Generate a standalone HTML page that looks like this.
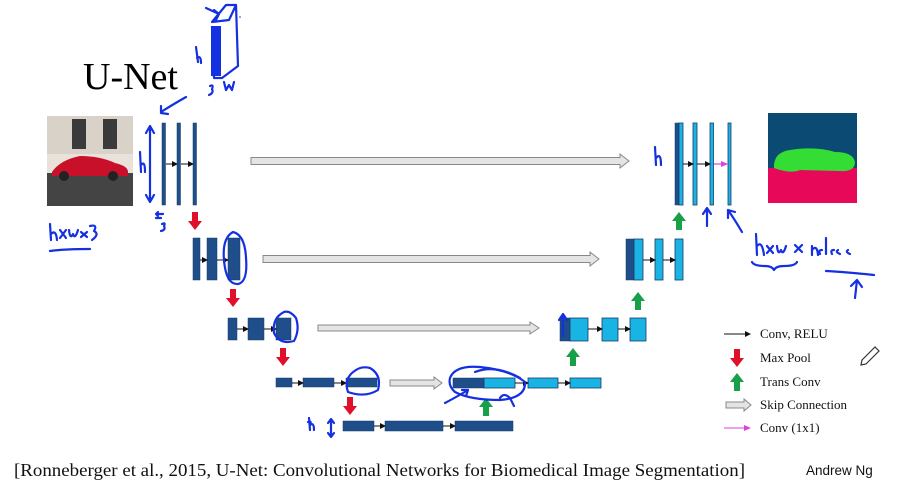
<!DOCTYPE html>
<html><head><meta charset="utf-8"><style>
html,body{margin:0;padding:0;background:#fff;}
svg{display:block}
</style></head><body>
<svg width="906" height="498" viewBox="0 0 906 498" xmlns="http://www.w3.org/2000/svg">
<defs>
<marker id="ah" markerWidth="6" markerHeight="6" refX="5" refY="3" orient="auto" markerUnits="userSpaceOnUse"><path d="M0,0 L6,3 L0,6 Z" fill="#111"/></marker>
<marker id="ap" markerWidth="7" markerHeight="6" refX="6" refY="3" orient="auto" markerUnits="userSpaceOnUse"><path d="M0,0 L7,3 L0,6 Z" fill="#e040e0"/></marker>
<g id="red"><rect x="-3" y="0" width="6" height="10" fill="#e0102a"/><path d="M-7,9 L7,9 L0,18 Z" fill="#e0102a"/></g>
<g id="grn"><rect x="-3" y="8" width="6" height="10" fill="#18a048"/><path d="M-7,9 L7,9 L0,0 Z" fill="#18a048"/></g>
</defs>
<text x="83" y="89" font-family="Liberation Serif,serif" font-size="38">U-Net</text>
<!-- input image -->
<rect x="47" y="116" width="86" height="90" fill="#e8e2da"/>
<rect x="47" y="116" width="86" height="38" fill="#d9d2c8"/>
<rect x="72" y="119" width="14" height="30" fill="#3a3a3a"/><rect x="103" y="119" width="14" height="30" fill="#3a3a3a"/>
<rect x="47" y="173" width="86" height="33" fill="#444"/>
<path d="M52,172 Q60,160 80,156 Q100,156 115,163 Q128,166 128,172 L128,176 L52,176 Z" fill="#c8102a"/>
<circle cx="64" cy="176" r="5" fill="#222"/><circle cx="113" cy="176" r="5" fill="#222"/>
<!-- seg map -->
<rect x="768" y="113" width="89" height="90" fill="#0b4a73"/>
<path d="M768,168 L857,168 L857,203 L768,203 Z" fill="#e8085a"/>
<path d="M774,165 Q775,152 790,150 Q815,146 835,152 Q853,152 855,162 Q855,172 840,171 L800,170 Q790,174 774,168 Z" fill="#33dd33"/>
<!-- skip connections -->
<g fill="#e4e4e4" stroke="#888" stroke-width="1">
<path d="M251,157.5 L620,157.5 L620,154 L629,161 L620,168 L620,164.5 L251,164.5 Z"/>
<path d="M263,255.5 L590,255.5 L590,252 L599,259 L590,266 L590,262.5 L263,262.5 Z"/>
<path d="M318,325 L530,325 L530,322 L539,328 L530,334 L530,331 L318,331 Z"/>
<path d="M390,380 L434,380 L434,377 L442,383 L434,389 L434,386 L390,386 Z"/>
</g>
<!-- down path -->
<g fill="#1f4e8a" stroke="#173a66" stroke-width="0.5">
<rect x="162" y="123" width="3.5" height="82"/><rect x="177" y="123" width="3.5" height="82"/><rect x="193" y="123" width="3.5" height="82"/>
<rect x="193" y="238" width="7" height="42"/><rect x="207" y="238" width="10" height="42"/><rect x="228" y="238" width="12" height="42"/>
<rect x="228" y="318" width="9" height="22"/><rect x="248" y="318" width="16" height="22"/><rect x="276" y="318" width="15" height="22"/>
<rect x="276" y="378" width="16" height="9"/><rect x="303" y="378" width="31" height="9"/><rect x="346" y="378" width="31" height="9"/>
<rect x="343" y="421" width="31" height="10"/><rect x="385" y="421" width="58" height="10"/><rect x="455" y="421" width="58" height="10"/>
<rect x="453" y="378" width="31" height="10"/>
<rect x="560" y="318" width="10" height="23"/>
<rect x="626" y="239" width="8" height="41"/>
<rect x="675" y="123" width="4" height="82"/>
</g>
<g fill="#1ab4e4" stroke="#173a66" stroke-width="0.8">
<rect x="484" y="378" width="31" height="10"/><rect x="528" y="378" width="30" height="10"/><rect x="570" y="378" width="31" height="10"/>
<rect x="570" y="318" width="18" height="23"/><rect x="602" y="318" width="16" height="23"/><rect x="630" y="318" width="16" height="23"/>
<rect x="634" y="239" width="9" height="41"/><rect x="655" y="239" width="8" height="41"/><rect x="675" y="239" width="8" height="41"/>
<rect x="679" y="123" width="4" height="82"/><rect x="693" y="123" width="4" height="82"/><rect x="710" y="123" width="3.5" height="82"/><rect x="728" y="123" width="3" height="82"/>
</g>
<!-- conv arrows -->
<g stroke="#111" stroke-width="1" marker-end="url(#ah)">
<line x1="166" y1="164" x2="177" y2="164"/><line x1="181" y1="164" x2="193" y2="164"/>
<line x1="200" y1="260" x2="207" y2="260"/><line x1="217" y1="260" x2="228" y2="260"/>
<line x1="237" y1="329" x2="248" y2="329"/><line x1="264" y1="329" x2="276" y2="329"/>
<line x1="292" y1="383" x2="303" y2="383"/><line x1="334" y1="383" x2="346" y2="383"/>
<line x1="374" y1="426" x2="385" y2="426"/><line x1="443" y1="426" x2="455" y2="426"/>
<line x1="515" y1="383" x2="528" y2="383"/><line x1="558" y1="383" x2="570" y2="383"/>
<line x1="588" y1="329" x2="602" y2="329"/><line x1="618" y1="329" x2="630" y2="329"/>
<line x1="643" y1="260" x2="655" y2="260"/><line x1="663" y1="260" x2="675" y2="260"/>
<line x1="683" y1="164" x2="693" y2="164"/><line x1="697" y1="164" x2="710" y2="164"/>
</g>
<line x1="714" y1="164" x2="727" y2="164" stroke="#e040e0" stroke-width="1.2" marker-end="url(#ap)"/>
<use href="#red" x="195" y="212"/><use href="#red" x="233" y="289"/><use href="#red" x="283" y="348"/><use href="#red" x="350" y="397"/>
<use href="#grn" x="486" y="398"/><use href="#grn" x="573" y="348"/><use href="#grn" x="638" y="292"/><use href="#grn" x="679" y="212"/>
<!-- legend -->
<g font-family="Liberation Serif,serif" font-size="13" fill="#111">
<line x1="724" y1="334" x2="750" y2="334" stroke="#111" marker-end="url(#ah)"/>
<text x="760" y="338">Conv, RELU</text>
<use href="#red" x="737" y="349"/><text x="760" y="362">Max Pool</text>
<use href="#grn" x="737" y="373"/><text x="760" y="386">Trans Conv</text>
<path d="M726,402 L744,402 L744,399 L751,405 L744,411 L744,408 L726,408 Z" fill="#e4e4e4" stroke="#888"/><text x="760" y="409">Skip Connection</text>
<line x1="724" y1="428" x2="750" y2="428" stroke="#e040e0" marker-end="url(#ap)"/><text x="760" y="432">Conv (1x1)</text>
</g>
<text x="14" y="476" font-family="Liberation Serif,serif" font-size="17.5" textLength="731" lengthAdjust="spacingAndGlyphs" fill="#111">[Ronneberger et al., 2015, U-Net: Convolutional Networks for Biomedical Image Segmentation]</text>
<text x="806" y="475" font-family="Liberation Sans,sans-serif" font-size="13.5" fill="#111">Andrew Ng</text>
<!-- pencil -->
<path d="M862,360 L875,347 L879,351 L866,364 L861,365 Z" fill="none" stroke="#333" stroke-width="1.2"/>
<!-- handwriting -->
<g fill="none" stroke="#1530e0" stroke-width="2.2" stroke-linecap="round" stroke-linejoin="round">
<path d="M212,27 L214,78 L222,78 L238,66 L236,5 L226,5 L212,22 L229,20 L236,5"/>
<path d="M206,8 L219,14 M214,10 L219,14 L216,20"/>
<rect x="211" y="26" width="10" height="50" fill="#1530e0" stroke="none"/>
<path d="M196,47 L198,62 M197,58 Q201,55 201,63"/>
<path d="M210,86 Q214,84 212,89 Q214,93 209,95 M224,82 L226,90 L229,85 L232,90 L234,82"/>
<path d="M186,97 Q172,105 161,112 M161,106 L161,113 L168,114"/>
<path d="M150,128 L150,200 M146,133 L150,126 L154,133 M146,195 L150,202 L154,195"/>
<path d="M140,152 L141,172 M141,165 Q145,160 145,172"/>
<path d="M156,214 L163,214 M158,216 L156,214 L158,212 M161,218 L156,218"/>
<path d="M162,224 Q166,222 164,226 Q166,230 161,231"/>
<path d="M50,224 L51,240 M51,234 Q56,229 57,240 M60,230 L66,238 M66,230 L60,238 M69,230 Q70,240 73,234 Q75,240 78,230 M81,232 L87,237 M87,232 L81,237 M90,226 Q98,224 94,231 Q100,234 92,240"/>
<path d="M50,251 Q65,249 90,249"/>
<path d="M233,232 Q222,238 224,260 Q226,285 238,284 Q248,282 246,258 Q245,235 233,232"/>
<path d="M284,312 Q272,318 274,333 Q280,345 294,341 Q300,330 296,318 Q290,310 284,312"/>
<path d="M356,370 Q343,378 348,392 Q365,398 378,390 Q382,375 370,368 Q362,366 356,370"/>
<path d="M450,378 Q455,365 480,367 Q510,370 525,382 Q526,398 500,400 Q470,400 455,392 Q448,386 450,378"/>
<path d="M475,372 Q495,364 520,378"/>
<path d="M445,403 Q460,395 468,390 M462,390 L468,390 L466,396"/>
<path d="M500,398 Q504,392 510,398 L514,406"/>
<path d="M563,336 L563,315 M559,320 L563,314 L567,320"/>
<path d="M308,422 Q312,420 310,425 M309,418 L310,430 M310,425 Q314,422 314,430"/>
<path d="M331,420 L331,436 M328,423 L331,419 L334,423 M328,433 L331,437 L334,433"/>
<path d="M655,147 L656,165 M656,158 Q661,152 661,165"/>
<path d="M707,226 L707,209 M703,214 L707,208 L711,214"/>
<path d="M742,232 Q735,220 728,210 M728,210 L728,218 M728,210 L735,212"/>
<path d="M756,234 L757,255 M757,246 Q762,240 764,255 M767,246 L773,253 M773,246 L767,253 M777,246 Q778,256 781,250 Q783,256 786,246 M795,245 L802,252 M802,245 L795,252 M812,246 L812,255 M812,250 Q817,244 818,255 M822,250 Q818,250 820,254 M826,238 L826,254 M834,250 Q830,250 832,254 M838,250 Q835,252 840,254 M848,250 Q845,252 850,254"/>
<path d="M752,262 Q754,266 765,266 Q772,266 774,270 Q776,266 784,266 Q795,266 797,262"/>
<path d="M826,271 Q845,272 874,275"/>
<path d="M855,298 L857,280 M851,286 L857,280 L862,287"/>
</g>
<circle cx="240" cy="17" r="0.8" fill="#1530e0"/>
</svg>
</body></html>
